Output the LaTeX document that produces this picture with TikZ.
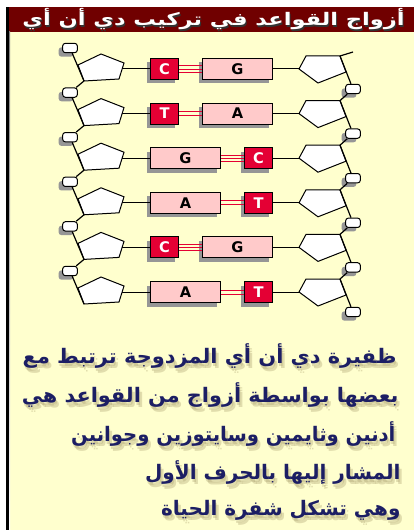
\documentclass[tikz,border=0pt]{standalone}
\usepackage{fontspec}
\usepackage{graphicx}
\usepackage{tikz}
\usetikzlibrary{positioning,shadows}
\TeXXeTstate=1
\newfontfamily\arabicfont[Script=Arabic]{DejaVu Sans}
\newfontfamily\letterfont{DejaVu Sans}
\usepackage{xcolor}
\definecolor{headred}{RGB}{112,0,0}
\definecolor{paper}{RGB}{255,255,206}
\definecolor{basered}{RGB}{228,0,52}
\definecolor{basepink}{RGB}{255,202,202}
\definecolor{shade}{RGB}{150,150,150}
\definecolor{ink}{RGB}{28,30,100}
\definecolor{inkshade}{RGB}{170,160,110}
\tikzset{every picture/.style={line width=0.75pt}}
\tikzset{
  boxshadow/.style={drop shadow={shadow xshift=-3pt,shadow yshift=-3pt,fill=shade,opacity=1}},
  smallbase/.style={draw=black,fill=basered,text=white,minimum width=21pt,minimum height=15.75pt,
    inner sep=0pt,font=\letterfont\bfseries\fontsize{11}{11}\selectfont,boxshadow},
  bigbase/.style={draw=black,fill=basepink,text=black,minimum width=52.5pt,minimum height=15.75pt,
    inner sep=0pt,font=\letterfont\bfseries\fontsize{11}{11}\selectfont,boxshadow},
  base C/.style={smallbase}, base T/.style={smallbase},
  base G/.style={bigbase}, base A/.style={bigbase},
  phosphate/.style={draw=black,fill=white,rounded corners=2pt,minimum width=11pt,minimum height=7pt,
    inner sep=0pt,boxshadow},
  sugar/.style={draw=black,fill=white},
  sugarshade/.style={fill=shade},
  bond/.style={draw=basered,line width=0.6pt},
  chain/.style={draw=black,line width=0.9pt},
  note/.style={font=\arabicfont\bfseries\fontsize{15}{18}\selectfont,text=ink,inner sep=0pt},
  noteshade/.style={note,text=inkshade,opacity=0.35},
  title/.style={font=\arabicfont\bfseries\fontsize{13}{15}\selectfont,text=white,inner sep=0pt},
}

\begin{document}
\begin{tikzpicture}[x=0.75pt,y=0.75pt,yscale=-1,xscale=1]
\useasboundingbox (0,0) rectangle (414,530);

% page, title bar and left rule
\fill[white] (0,0) rectangle (414,530);
\fill[paper] (8,32) rectangle (414,530);
\fill[headred] (8,7) rectangle (414,32);
\fill[black] (6,7) rectangle (9,530);
\fill[shade] (9,32) rectangle (10,530);

% Title
\node[title,text=black!80,anchor=east] (titleshade) at (406,21) {\scalebox{1.3}[1]{\beginR أزواج القواعد في تركيب دي أن أي\endR}};
\node[title,anchor=east] (title) at (405,19) {\scalebox{1.3}[1]{\beginR أزواج القواعد في تركيب دي أن أي\endR}};

% base pairs, sugars and phosphates
\foreach \i/\lb/\rb/\nb in {1/C/G/3,2/T/A/2,3/G/C/3,4/A/T/2,5/C/G/3,6/A/T/2}{
  \pgfmathsetmacro{\y}{69+44.6*(\i-1)}
  \begin{scope}[shift={(0,\y)}]
    % sugar corners
    \coordinate (ls\i t) at (101,-15);
    \coordinate (ls\i r) at (124,-6);
    \coordinate (ls\i b) at (119,10);
    \coordinate (ls\i d) at (84,12);
    \coordinate (ls\i l) at (78,-4);
    \coordinate (ls\i e) at (122,0);
    \coordinate (rs\i a) at (306,-13);
    \coordinate (rs\i u) at (340,-13);
    \coordinate (rs\i r) at (346,3);
    \coordinate (rs\i b) at (318,14);
    \coordinate (rs\i l) at (299,0);
    \node[phosphate] (lp\i) at (70,-21) {};
    \node[phosphate] (rp\i) at (353,20) {};
  \end{scope}
  \fill[sugarshade,shift={(-4,4)}] (ls\i t) -- (ls\i r) -- (ls\i b) -- (ls\i d) -- (ls\i l) -- cycle;
  \fill[sugarshade,shift={(-4,4)}] (rs\i a) -- (rs\i u) -- (rs\i r) -- (rs\i b) -- (rs\i l) -- cycle;
  \draw[sugar] (ls\i t) -- (ls\i r) -- (ls\i b) -- (ls\i d) -- (ls\i l) -- cycle;
  \draw[sugar] (rs\i a) -- (rs\i u) -- (rs\i r) -- (rs\i b) -- (rs\i l) -- cycle;
  \node[base \lb,anchor=west] (lb\i) at (150,\y) {\lb};
  \node[base \rb,anchor=east] (rb\i) at (273,\y) {\rb};
  \draw (ls\i e) -- (lb\i);
  \draw (rb\i) -- (rs\i l);
  \ifnum\nb=3
    \foreach \k in {-2.4,0,2.4}
      \draw[bond] ([yshift=\k pt]lb\i.east) -- ([yshift=\k pt]rb\i.west);
  \else
    \foreach \k in {-1.5,1.5}
      \draw[bond] ([yshift=\k pt]lb\i.east) -- ([yshift=\k pt]rb\i.west);
  \fi
}

% backbones
\foreach \i [evaluate=\i as \j using int(\i+1)] in {1,...,5}{
  \draw[chain] (ls\i d) -- (lp\j);
  \draw[chain] (rp\i) -- (rs\j u);
}
\foreach \i in {1,...,6}{
  \draw[chain] (lp\i) -- (ls\i d);
  \draw[chain] (rs\i u) -- (rp\i);
}
\coordinate (rtop) at (353,52);
\draw[chain] (rs1u) -- (rtop);

% Text lines (\sx stretches each line to its width)
\foreach \n/\yy/\sx/\xr/\txt in {1/356/1.045/397/ظفيرة دي أن أي المزدوجة ترتبط مع,
                                 2/395/1.04/399/بعضها بواسطة أزواج من القواعد هي,
                                 3/434/0.98/396/أدنين وثايمين وسايتوزين وجوانين,
                                 4/472/1.0/401/المشار إليها بالحرف الأول,
                                 5/510/1.0/401/وهي تشكل شفرة الحياة}{
  \node[noteshade,anchor=east] (shade\n a) at (\xr+1,\yy+3) {\scalebox{\sx}[1]{\beginR\txt\endR}};
  \node[noteshade,anchor=east] (shade\n b) at (\xr+3,\yy+5) {\scalebox{\sx}[1]{\beginR\txt\endR}};
  \node[note,anchor=east] (line\n) at (\xr,\yy) {\scalebox{\sx}[1]{\beginR\txt\endR}};
}

\end{tikzpicture}
\end{document}
